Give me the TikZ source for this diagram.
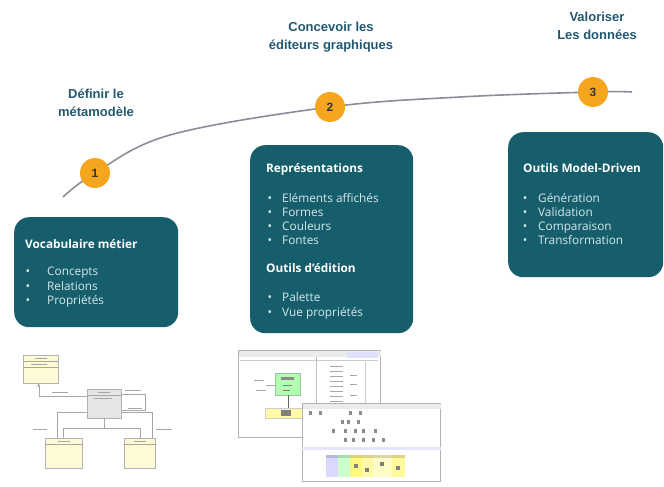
\documentclass[tikz,border=0pt]{standalone}
\usepackage{fontspec}
\setmainfont{Open Sans}
\newfontfamily\headfont{Liberation Sans}
\usetikzlibrary{arrows.meta}

\definecolor{panelteal}{RGB}{22,94,108}
\definecolor{phaseblue}{RGB}{34,88,112}
\definecolor{stopgold}{RGB}{245,166,30}
\definecolor{trackgray}{RGB}{140,140,152}
\definecolor{itemwhite}{RGB}{214,232,236}
\definecolor{classyellow}{RGB}{255,250,214}

\tikzset{
  panel/.style={fill=panelteal, rounded corners=15pt, anchor=north west, inner sep=0pt},
  phase/.style={font=\headfont\bfseries\fontsize{13}{18.5}\selectfont, text=phaseblue, align=center},
  stop/.style={circle, fill=stopgold, minimum size=30pt, inner sep=0pt,
    font=\headfont\bfseries\fontsize{12}{14}\selectfont, text=black!80},
  title/.style={anchor=base west, inner sep=0pt, font=\bfseries\fontsize{11.8}{14}\selectfont, text=white},
  item/.style={anchor=base west, inner sep=0pt, font=\fontsize{11.8}{14}\selectfont, text=itemwhite},
  dot/.style={anchor=base, inner sep=0pt, font=\fontsize{12}{14}\selectfont, text=itemwhite},
  track/.style={draw=trackgray, line width=1.6pt},
  cls/.style={draw=black!30, fill=classyellow, line width=0.5pt, anchor=north west, inner sep=0pt},
  win/.style={draw=black!30, fill=white, line width=0.6pt, anchor=north west, inner sep=0pt},
  wire/.style={draw=black!35, line width=0.5pt},
  scribble/.style={draw=black!35, line width=0.9pt},
}

\begin{document}
\begin{tikzpicture}[x=1pt,y=-1pt]
  \useasboundingbox (0,0) rectangle (664,487);

  % the road through the three stages
  \coordinate (c0) at (63,197);
  \coordinate (p1) at (95,173);
  \coordinate (p2) at (330,107);
  \coordinate (p3) at (593,92);
  \coordinate (c4) at (632,92);
  \draw[track] plot[smooth, tension=0.6] coordinates {(c0) (p1) (170,135) (p2) (460,97) (p3) (c4)};

  \node[stop] (s1) at (p1) {1};
  \node[stop] (s2) at (p2) {2};
  \node[stop] (s3) at (p3) {3};

  \node[phase] (h1) at (96,103) {Définir le\\métamodèle};
  \node[phase] (h2) at (331,37) {Concevoir les\\éditeurs graphiques};
  \node[phase] (h3) at (597,26) {Valoriser\\Les données};

  % stage 1
  \node[panel, minimum width=164pt, minimum height=110pt] (voc) at (14,217) {};
  \node[title] (voct) at (25,248) {Vocabulaire métier};
  \foreach \t [count=\i] in {Concepts, Relations, Propriétés} {
    \node[dot] (vb\i) at (28,261+14.5*\i) {•};
    \node[item] (vi\i) at (47,261+14.5*\i) {\t};
  }

  % stage 2
  \node[panel, minimum width=163pt, minimum height=188pt] (edit) at (250,145) {};
  \node[title] (editt) at (266,172) {Représentations};
  \foreach \t [count=\i] in {Eléments affichés, Formes, Couleurs, Fontes} {
    \node[dot] (eb\i) at (270,188+14*\i) {•};
    \node[item] (ei\i) at (282,188+14*\i) {\t};
  }
  \node[title] (editu) at (266,272) {Outils d'édition};
  \foreach \t [count=\i] in {Palette, Vue propriétés} {
    \node[dot] (ub\i) at (270,286+15*\i) {•};
    \node[item] (ui\i) at (282,286+15*\i) {\t};
  }

  % stage 3
  \node[panel, minimum width=155pt, minimum height=145pt] (tool) at (508,132) {};
  \node[title] (toolt) at (523,172) {Outils Model-Driven};
  \foreach \t [count=\i] in {Génération, Validation, Comparaison, Transformation} {
    \node[dot] (tb\i) at (525,188+14*\i) {•};
    \node[item] (ti\i) at (538,188+14*\i) {\t};
  }

  % metamodel thumbnail
  \node[cls, minimum width=35pt, minimum height=28pt] (ca) at (23,355) {};
  \node[cls, fill=black!10, minimum width=34pt, minimum height=29pt] (cb) at (87,389) {};
  \node[cls, minimum width=37pt, minimum height=30pt] (cc) at (45,438) {};
  \node[cls, minimum width=31pt, minimum height=30pt] (cd) at (124,438) {};
  \foreach \c in {ca,cb,cc,cd} {
    \draw[wire] ([yshift=-6pt]\c.north west) -- ([yshift=-6pt]\c.north east);
    \draw[scribble] ([yshift=-3pt]\c.north) ++(-6,0) -- ++(12,0);
  }
  \draw[wire] ([yshift=-12pt]ca.north west) -- ([yshift=-12pt]ca.north east);
  \draw[scribble] ([yshift=-9pt]ca.north) ++(-10,0) -- ++(16,0);
  \draw[scribble] ([yshift=-9pt]cb.north) ++(-10,0) -- ++(18,0);
  \draw[wire, -{Triangle[length=3pt,width=3pt]}] ([yshift=8pt]cb.west) -| ([xshift=-2pt]ca.south);
  \draw[wire] ([yshift=10pt]cb.east) -- ++(24,0) -- ++(0,16) -- ([yshift=-6pt]cb.east);
  \draw[wire] (cb.south) -- ++(0,10) -| ([xshift=-1pt]cc.north);
  \draw[wire] (cb.south) ++(0,10) -| (cd.north);
  \draw[wire] ([yshift=-8pt]cb.west) -| ([xshift=-7pt]cc.north);
  \draw[wire] ([yshift=-8pt]cb.east) -| ([xshift=12pt]cd.north);
  \draw[scribble] (52,392) -- (68,392);
  \draw[scribble] (33,429) -- (47,429);
  \draw[scribble] (156,429) -- (172,429);
  \draw[scribble] (125,390) -- (141,390);
  \draw[scribble] (128,408) -- (142,408);

  % editor thumbnails
  \node[win, minimum width=142pt, minimum height=87pt] (w1) at (238,350) {};
  \fill[black!8] ([shift={(0.5,0.5)}]w1.north west) rectangle ([yshift=-7pt]w1.north east);
  \fill[blue!12] (347,352) rectangle (378,358);
  \draw[black!20] (240,360) -- (378,360);
  \draw[black!25] (316,357) -- (316,436);
  \fill[green!30, draw=green!40!black!40] (275,373) rectangle (300,395);
  \fill[black!45] (281,377) rectangle (294,380);
  \draw[scribble, black!50] (283,385) -- (292,385) (283,390) -- (290,390);
  \draw[scribble] (254,380) -- (264,380) (256,390) -- (266,390);
  \draw[wire] (266,385) -- (275,385);
  \draw[wire, black!60] (288,395) -- (288,408);
  \fill[yellow!35, draw=black!20] (265,408) rectangle (302,418);
  \fill[black!50] (281,410) rectangle (291,416);
  \foreach \y in {366,371,...,401} \draw[scribble] (330,\y) -- (343,\y);
  \foreach \y in {375,384,395} \draw[scribble] (350,\y) -- (357,\y);
  \draw[black!20] (365,362) -- (365,436);

  \node[win, minimum width=138pt, minimum height=78pt] (w2) at (302,403) {};
  \fill[black!8] ([shift={(0.5,0.5)}]w2.north west) rectangle ([yshift=-6pt]w2.north east);
  \foreach \x/\y in {310/413, 320/413, 350/413, 360/413,
                     342/422, 348/422, 358/422,
                     333/431, 345/431, 355/431, 363/431, 375/431,
                     345/440, 353/440, 363/440, 373/440, 383/440}
    \fill[black!45] (\x-1.5,\y-2) rectangle (\x+1.5,\y+2);
  \fill[blue!10] ([yshift=-44pt]w2.north west) rectangle ([yshift=-47pt]w2.north east);
  \foreach \a/\b/\c in {326/338/blue!15, 338/350/green!20, 350/362/yellow!50,
                        362/373/yellow!35, 373/392/yellow!22, 392/405/yellow!40} {
    \fill[\c] (\a,455) rectangle (\b,477);
    \fill[black, opacity=0.15] (\a,455) rectangle (\b,458);
  }
  \foreach \x/\y in {356/466, 367/470, 382/464, 398/468}
    \fill[black!50] (\x-2,\y-2) rectangle (\x+2,\y+2);
\end{tikzpicture}
\end{document}
